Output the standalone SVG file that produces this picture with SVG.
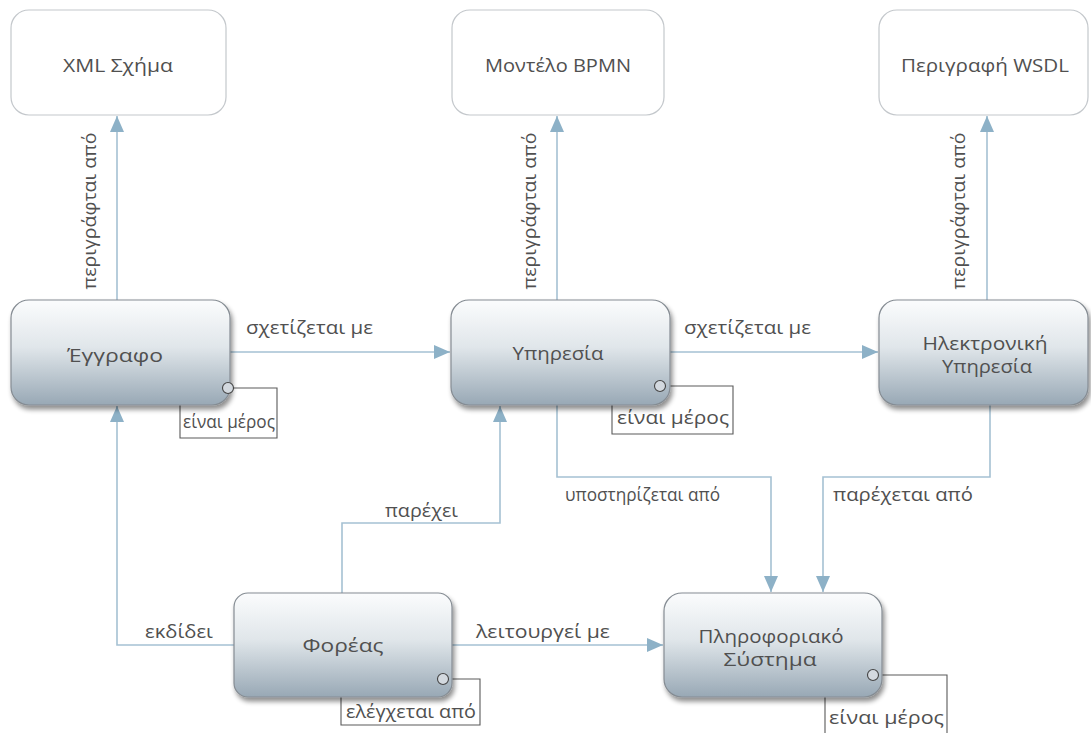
<svg xmlns="http://www.w3.org/2000/svg" width="1091" height="733" viewBox="0 0 1091 733">
  <style>
    text { font-family: "Open Sans", "DejaVu Sans", sans-serif; fill: #505050; font-size: 17.5px; }
    .lbl { text-anchor: middle; }
    .plain { fill: #ffffff; stroke: #c4c8cc; stroke-width: 1.2; }
    .box { fill: url(#nodeGrad); stroke: #858c93; stroke-width: 1.2; filter: url(#shadow); }
    .conn { fill: none; stroke: #a5c1d3; stroke-width: 1.6; }
    .loop { fill: none; stroke: #5a5a5a; stroke-width: 1.1; }
    .knob { fill: #d3d9df; stroke: #444; stroke-width: 1.1; }
  </style>
  <defs>
    <linearGradient id="nodeGrad" x1="0" y1="0" x2="0" y2="1">
      <stop offset="0" stop-color="#fbfcfd"/>
      <stop offset="0.45" stop-color="#e0e6ea"/>
      <stop offset="1" stop-color="#98a8b5"/>
    </linearGradient>
    <filter id="shadow" x="-10%" y="-10%" width="125%" height="135%">
      <feGaussianBlur in="SourceAlpha" stdDeviation="2.5"/>
      <feOffset dx="2" dy="4" result="b"/>
      <feComponentTransfer><feFuncA type="linear" slope="0.45"/></feComponentTransfer>
      <feMerge><feMergeNode/><feMergeNode in="SourceGraphic"/></feMerge>
    </filter>
    <marker id="arrow" viewBox="0 0 16 14" refX="16" refY="7" markerWidth="16" markerHeight="14" markerUnits="userSpaceOnUse" orient="auto">
      <path d="M0,0 L16,7 L0,14 Z" fill="#8db1c7"/>
    </marker>
  </defs>

  <rect width="1091" height="733" fill="#ffffff"/>

  <!-- connectors -->
  <g id="connectors">
    <path class="conn" d="M117,300 V116" marker-end="url(#arrow)"/>
    <path class="conn" d="M557,300 V116" marker-end="url(#arrow)"/>
    <path class="conn" d="M987,300 V116" marker-end="url(#arrow)"/>
    <path class="conn" d="M230,352 H450" marker-end="url(#arrow)"/>
    <path class="conn" d="M670,352 H878" marker-end="url(#arrow)"/>
    <path class="conn" d="M234,645 H117 V406" marker-end="url(#arrow)"/>
    <path class="conn" d="M342,593 V523 H500 V406" marker-end="url(#arrow)"/>
    <path class="conn" d="M557,405 V477 H771 V592" marker-end="url(#arrow)"/>
    <path class="conn" d="M990,405 V477 H823 V592" marker-end="url(#arrow)"/>
    <path class="conn" d="M452,645 H663" marker-end="url(#arrow)"/>

    <!-- self loops -->
    <path class="loop" d="M228,388 H277 V438 H180 V405"/>
    <path class="loop" d="M660,386 H733 V434 H612 V405"/>
    <path class="loop" d="M443,679 H480 V725 H341 V697"/>
    <path class="loop" d="M873,675 H947 V733 M825,733 V697"/>

    <text class="lbl" transform="translate(96,211) rotate(-90)" textLength="157" lengthAdjust="spacingAndGlyphs">περιγράφται από</text>
    <text class="lbl" transform="translate(536,211) rotate(-90)" textLength="157" lengthAdjust="spacingAndGlyphs">περιγράφται από</text>
    <text class="lbl" transform="translate(965,211) rotate(-90)" textLength="157" lengthAdjust="spacingAndGlyphs">περιγράφται από</text>
    <text x="246" y="334" textLength="127" lengthAdjust="spacingAndGlyphs">σχετίζεται με</text>
    <text x="684" y="334" textLength="127" lengthAdjust="spacingAndGlyphs">σχετίζεται με</text>
    <text x="183" y="428" textLength="92" lengthAdjust="spacingAndGlyphs">είναι μέρος</text>
    <text x="617" y="424" textLength="112" lengthAdjust="spacingAndGlyphs">είναι μέρος</text>
    <text x="346" y="718" textLength="130" lengthAdjust="spacingAndGlyphs">ελέγχεται από</text>
    <text x="829" y="724" textLength="115" lengthAdjust="spacingAndGlyphs">είναι μέρος</text>
    <text x="145" y="638" textLength="68" lengthAdjust="spacingAndGlyphs">εκδίδει</text>
    <text x="385" y="517" textLength="73" lengthAdjust="spacingAndGlyphs">παρέχει</text>
    <text x="565" y="501" textLength="155" lengthAdjust="spacingAndGlyphs">υποστηρίζεται από</text>
    <text x="833" y="501" textLength="140" lengthAdjust="spacingAndGlyphs">παρέχεται από</text>
    <text x="476" y="638" textLength="134" lengthAdjust="spacingAndGlyphs">λειτουργεί με</text>
  </g>

  <!-- top reference nodes -->
  <g id="xml-schema">
    <rect class="plain" x="11" y="10" width="215" height="105" rx="18"/>
    <text class="lbl" x="118" y="72" textLength="110" lengthAdjust="spacingAndGlyphs">XML Σχήμα</text>
  </g>
  <g id="bpmn-model">
    <rect class="plain" x="452" y="10" width="212" height="105" rx="18"/>
    <text class="lbl" x="558" y="72" textLength="146" lengthAdjust="spacingAndGlyphs">Μοντέλο BPMN</text>
  </g>
  <g id="wsdl-description">
    <rect class="plain" x="879" y="10" width="209" height="105" rx="18"/>
    <text class="lbl" x="985" y="72" textLength="168" lengthAdjust="spacingAndGlyphs">Περιγραφή WSDL</text>
  </g>

  <!-- main nodes -->
  <g id="document">
    <rect class="box" x="11" y="300" width="219" height="105" rx="18"/>
    <text class="lbl" x="115" y="362" textLength="96" lengthAdjust="spacingAndGlyphs">Έγγραφο</text>
    <circle class="knob" cx="228" cy="388" r="5.5"/>
  </g>
  <g id="service">
    <rect class="box" x="451" y="300" width="219" height="105" rx="18"/>
    <text class="lbl" x="558" y="360" textLength="91" lengthAdjust="spacingAndGlyphs">Υπηρεσία</text>
    <circle class="knob" cx="660" cy="386" r="5.5"/>
  </g>
  <g id="web-service">
    <rect class="box" x="879" y="300" width="209" height="105" rx="18"/>
    <text class="lbl" x="985" y="350" textLength="125" lengthAdjust="spacingAndGlyphs">Ηλεκτρονική</text>
    <text class="lbl" x="987" y="373" textLength="90" lengthAdjust="spacingAndGlyphs">Υπηρεσία</text>
  </g>
  <g id="organisation">
    <rect class="box" x="234" y="593" width="218" height="104" rx="14"/>
    <text class="lbl" x="343" y="652" textLength="81" lengthAdjust="spacingAndGlyphs">Φορέας</text>
    <circle class="knob" cx="443" cy="679" r="5.5"/>
  </g>
  <g id="information-system">
    <rect class="box" x="664" y="593" width="218" height="104" rx="18"/>
    <text class="lbl" x="771" y="643" textLength="145" lengthAdjust="spacingAndGlyphs">Πληροφοριακό</text>
    <text class="lbl" x="770" y="666" textLength="93" lengthAdjust="spacingAndGlyphs">Σύστημα</text>
    <circle class="knob" cx="873" cy="675" r="5.5"/>
  </g>
</svg>
